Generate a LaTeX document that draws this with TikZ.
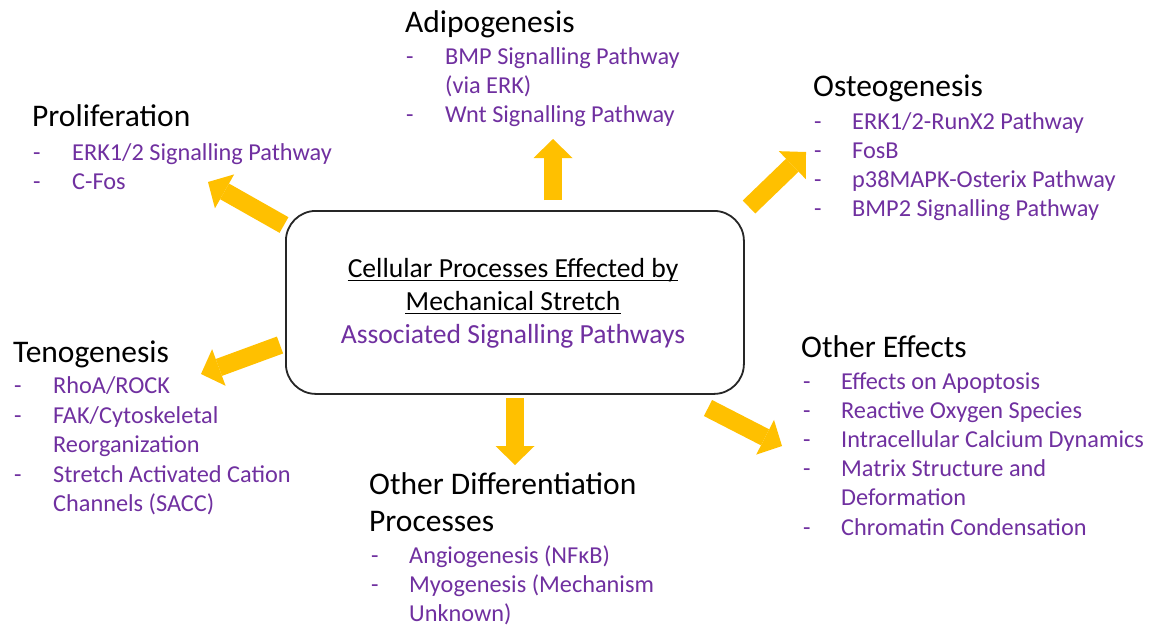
\documentclass[tikz,border=0pt]{standalone}
\usepackage{fontspec}
\setmainfont{Carlito}
\usetikzlibrary{arrows.meta}
\definecolor{purp}{HTML}{7030A0}
\definecolor{arrowor}{HTML}{FFC000}
\definecolor{boxline}{HTML}{262626}
\tikzset{
  head/.style={anchor=base west, inner sep=0pt, font=\fontsize{31.5}{38}\selectfont, text=black},
  body/.style={anchor=base west, inner sep=0pt, font=\fontsize{24.3}{29}\selectfont, text=purp},
  dashmark/.style={anchor=base west, inner sep=0pt, font=\fontsize{24.3}{29}\selectfont, text=purp},
  centertxt/.style={anchor=base, inner sep=0pt, font=\fontsize{27.6}{33}\selectfont},
  underl/.style={draw=black, line width=1.4pt},
  blockarrow/.style={draw=arrowor, line width=18pt,
    -{Triangle[width=39pt,length=19pt,line width=0pt,fill=arrowor]}},
  mainbox/.style={draw=boxline, line width=1.8pt, rounded corners=30pt, fill=white}
}
\begin{document}
\begin{tikzpicture}[x=1pt,y=-1pt]
\useasboundingbox[fill=white] (0,0) rectangle (1150,625);

% central box
\node[mainbox, minimum width=458pt, minimum height=183pt, anchor=north west, inner sep=0pt] (box) at (285,210) {};
\node[centertxt, text=black] (c1) at (513,277) {Cellular Processes Effected by};
\node[centertxt, text=black] (c2) at (513,310) {Mechanical Stretch};
\node[centertxt, text=purp] (c3) at (513,343) {Associated Signalling Pathways};
\draw[underl] ([yshift=-3.5pt]c1.base west) -- ([yshift=-3.5pt]c1.base east);
\draw[underl] ([yshift=-3.5pt]c2.base west) -- ([yshift=-3.5pt]c2.base east);

% Adipogenesis
\node[head] (adH) at (405,32) {Adipogenesis};
\node[dashmark] (adD1) at (406,64) {-};
\node[body] (ad1) at (445,64) {BMP Signalling Pathway};
\node[body] (ad1b) at (445,93) {(via ERK)};
\node[dashmark] (adD2) at (406,122) {-};
\node[body] (ad2) at (445,122) {Wnt Signalling Pathway};

% Osteogenesis
\node[head] (osH) at (813,96) {Osteogenesis};
\node[dashmark] (osD1) at (814,129) {-};
\node[body] (os1) at (852,129) {ERK1/2-RunX2 Pathway};
\node[dashmark] (osD2) at (814,158) {-};
\node[body] (os2) at (852,158) {FosB};
\node[dashmark] (osD3) at (814,187) {-};
\node[body] (os3) at (852,187) {p38MAPK-Osterix Pathway};
\node[dashmark] (osD4) at (814,216) {-};
\node[body] (os4) at (852,216) {BMP2 Signalling Pathway};

% Proliferation
\node[head] (prH) at (32,126) {Proliferation};
\node[dashmark] (prD1) at (33,160) {-};
\node[body] (pr1) at (72,160) {ERK1/2 Signalling Pathway};
\node[dashmark] (prD2) at (33,189) {-};
\node[body] (pr2) at (72,189) {C-Fos};

% Tenogenesis
\node[head] (teH) at (13,362) {Tenogenesis};
\node[dashmark] (teD1) at (14,393) {-};
\node[body] (te1) at (53,393) {RhoA/ROCK};
\node[dashmark] (teD2) at (14,423) {-};
\node[body] (te2) at (53,423) {FAK/Cytoskeletal};
\node[body] (te2b) at (53,452) {Reorganization};
\node[dashmark] (teD3) at (14,482) {-};
\node[body] (te3) at (53,482) {Stretch Activated Cation};
\node[body] (te3b) at (53,511) {Channels (SACC)};

% Other Differentiation Processes
\node[head] (odH) at (369,494) {Other Differentiation};
\node[head] (odH2) at (369,531) {Processes};
\node[dashmark] (odD1) at (371,563) {-};
\node[body] (od1) at (409,563) {Angiogenesis (NFκB)};
\node[dashmark] (odD2) at (371,592) {-};
\node[body] (od2) at (409,592) {Myogenesis (Mechanism};
\node[body] (od2b) at (409,621) {Unknown)};

% Other Effects
\node[head] (oeH) at (801,357) {Other Effects};
\node[dashmark] (oeD1) at (803,389) {-};
\node[body] (oe1) at (841,389) {Effects on Apoptosis};
\node[dashmark] (oeD2) at (803,418) {-};
\node[body] (oe2) at (841,418) {Reactive Oxygen Species};
\node[dashmark] (oeD3) at (803,447) {-};
\node[body] (oe3) at (841,447) {Intracellular Calcium Dynamics};
\node[dashmark] (oeD4) at (803,476) {-};
\node[body] (oe4) at (841,476) {Matrix Structure and};
\node[body] (oe4b) at (841,505) {Deformation};
\node[dashmark] (oeD5) at (803,535) {-};
\node[body] (oe5) at (841,535) {Chromatin Condensation};

% arrows
\coordinate (upS) at (553,200);   \coordinate (upE) at (553,139);
\coordinate (dnS) at (515,398);   \coordinate (dnE) at (515,465);
\coordinate (prS) at (284,225);   \coordinate (prE) at (208,182);
\coordinate (osS) at (749,207);   \coordinate (osE) at (806,152);
\coordinate (teS) at (280,345);   \coordinate (teE) at (201,374);
\coordinate (oeS) at (708,408);   \coordinate (oeE) at (782,446);
\draw[blockarrow] (upS) -- (upE);
\draw[blockarrow] (dnS) -- (dnE);
\draw[blockarrow] (prS) -- (prE);
\draw[blockarrow] (osS) -- (osE);
\draw[blockarrow] (teS) -- (teE);
\draw[blockarrow] (oeS) -- (oeE);
\end{tikzpicture}
\end{document}
